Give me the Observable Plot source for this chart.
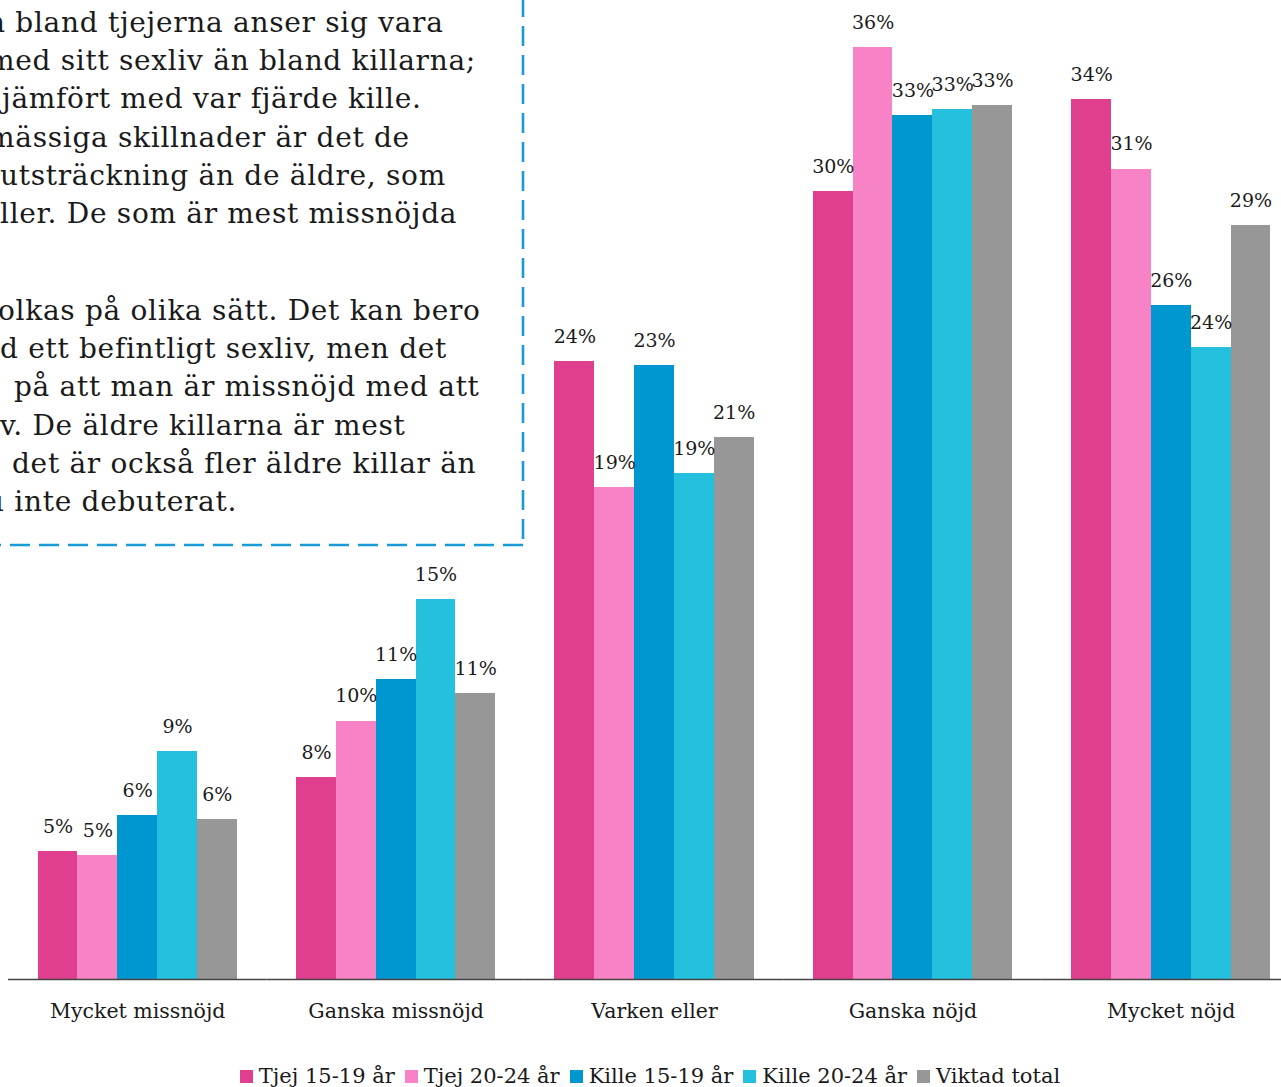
<!DOCTYPE html>
<html>
<head>
<meta charset="utf-8">
<script src="https://cdn.jsdelivr.net/npm/d3@7"></script>
<script src="https://cdn.jsdelivr.net/npm/@observablehq/plot@0.6"></script>
<style>
  html, body { margin: 0; padding: 0; background: #fff; overflow: hidden; }
  #wrap { position: relative; width: 1300px; font-family: "DejaVu Serif", serif; color: #1a1a1a; }
  #note { position: absolute; left: 0; top: 0; width: 530px; height: 550px; }
  #notetext { position: absolute; left: 0; top: 4px; font-size: 28px; letter-spacing: 0.7px; line-height: 38.2px; white-space: nowrap; }
  #legend { display: flex; justify-content: center; align-items: center; gap: 10px;
            margin-top: 26px; font-size: 21px; line-height: 21px; }
  #legend .item { display: flex; align-items: center; gap: 6px; }
  #legend .sw { width: 13px; height: 13px; display: inline-block; }
</style>
</head>
<body>
<div id="wrap">
  <div id="chart"></div>
  <div id="legend"></div>
  <div id="notetext"></div>
  <svg id="note" width="530" height="550">
    <line x1="523" y1="-3" x2="523" y2="545" stroke="#1a9ad6" stroke-width="2.6" stroke-dasharray="20 9"></line>
    <line x1="523" y1="545" x2="-6" y2="545" stroke="#1a9ad6" stroke-width="2.6" stroke-dasharray="20 9"></line>
  </svg>
</div>
<script>
const categories = ["Mycket missnöjd", "Ganska missnöjd", "Varken eller", "Ganska nöjd", "Mycket nöjd"];
const series = ["Tjej 15-19 år", "Tjej 20-24 år", "Kille 15-19 år", "Kille 20-24 år", "Viktad total"];
const colors = ["#e03e8f", "#f783c6", "#0097d0", "#25c0de", "#979797"];

const tjej1519  = [4.89, 7.72, 23.63, 30.13, 33.65];
const tjej2024  = [4.74, 9.87, 18.81, 35.64, 30.98];
const kille1519 = [6.27, 11.47, 23.48, 33.04, 25.77];
const kille2024 = [8.72, 14.53, 19.35, 33.27, 24.17];
const viktad    = [6.12, 10.94, 20.73, 33.42, 28.83];

const noteLines = [
  ["n bland tjejerna anser sig vara", -13],
  ["med sitt sexliv än bland killarna;", -12],
  ["jämfört med var fjärde kille.", 2],
  ["mässiga skillnader är det de", -12],
  ["utsträckning än de äldre, som", 0],
  ["ller. De som är mest missnöjda", 0],
  ["", 0],
  ["olkas på olika sätt. Det kan bero", -2],
  ["d ett befintligt sexliv, men det", 0],
  ["på att man är missnöjd med att", 14],
  ["v. De äldre killarna är mest", 0],
  ["det är också fler äldre killar än", 12],
  ["u inte debuterat.", -14]
];

const values = [tjej1519, tjej2024, kille1519, kille2024, viktad];
const data = categories.flatMap((c, i) => series.map((s, j) => ({category: c, series: s, value: values[j][i]})));

const chart = Plot.plot({
  width: 1300,
  height: 1040,
  marginLeft: 8,
  marginRight: 0,
  marginTop: 0,
  marginBottom: 61,
  style: {fontFamily: "DejaVu Serif", fontSize: "19px", color: "#1a1a1a", background: "transparent"},
  fx: {domain: categories, padding: 0, round: false, axis: null, label: null},
  x: {domain: series, axis: null, paddingInner: 0, paddingOuter: 0.746, round: false},
  y: {domain: [0, 979 / 26.15], axis: null},
  color: {domain: series, range: colors},
  marks: [
    Plot.barY(data, {fx: "category", x: "series", y: "value", fill: "series", shapeRendering: "crispEdges"}),
    Plot.text(data, {fx: "category", x: "series", y: "value", text: d => Math.round(d.value) + "%",
      dy: -25, fontSize: 19, fill: "#1a1a1a"}),
    Plot.ruleY([0], {stroke: "#444", strokeWidth: 1.5}),
    Plot.axisFx({anchor: "bottom", tickSize: 0, tickPadding: 24, fontSize: 20.5, label: null, fill: "#1a1a1a"})
  ]
});
document.getElementById("chart").appendChild(chart);

const legend = document.getElementById("legend");
series.forEach((s, j) => {
  const item = document.createElement("div");
  item.className = "item";
  const sw = document.createElement("span");
  sw.className = "sw";
  sw.style.background = colors[j];
  const t = document.createElement("span");
  t.textContent = s;
  item.appendChild(sw);
  item.appendChild(t);
  legend.appendChild(item);
});

const nt = document.getElementById("notetext");
noteLines.forEach(([txt, off], k) => {
  const d = document.createElement("div");
  d.textContent = txt || "\u00a0";
  d.style.marginLeft = off + "px";
  if (k === 6) d.style.height = "58.8px";
  nt.appendChild(d);
});
</script>
</body>
</html>
